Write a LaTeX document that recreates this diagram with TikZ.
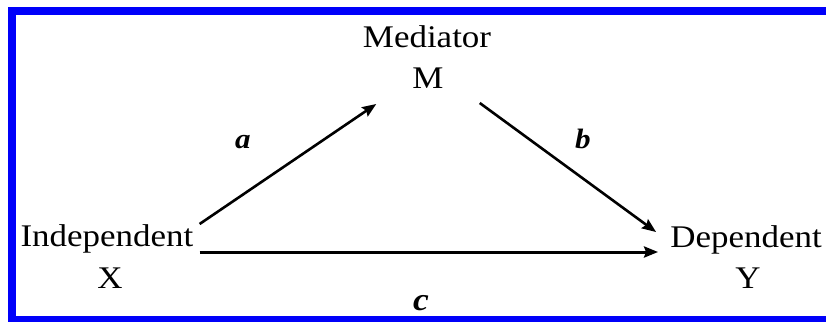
\documentclass[tikz,border=0pt]{standalone}
\usepackage{fontspec}
\usepackage{graphicx}
\setmainfont{Liberation Serif}
\usetikzlibrary{arrows.meta}
\definecolor{frameblue}{RGB}{0,0,250}
\newcommand\hstretch[1]{\scalebox{1.11}[1]{#1}}
\tikzset{
  lbl/.style={inner sep=0pt, anchor=base, font=\fontsize{31.5}{38}\selectfont},
  pathlbl/.style={inner sep=0pt, anchor=base, font=\fontsize{28}{32}\selectfont\bfseries\itshape},
  conn/.style={line width=2.6pt, -{Stealth[length=14pt,width=11pt,inset=2pt]}},
}
\begin{document}
\begin{tikzpicture}[x=1pt,y=-1pt]
\useasboundingbox (0,0) rectangle (826,324);
\fill[white] (0,0) rectangle (826,324);
% blue frame (right side cropped)
\fill[frameblue] (8,7) rectangle (826,15);
\fill[frameblue] (8,7) rectangle (16,322);
\fill[frameblue] (8,316) rectangle (826,322);
% texts
\node[lbl] (medT) at (427,47) {\hstretch{Mediator}};
\node[lbl] (medM) at (428,88) {\hstretch{M}};
\node[lbl] (indT) at (107,246) {\hstretch{Independent}};
\node[lbl] (indX) at (110,288) {\hstretch{X}};
\node[lbl] (depT) at (746,247) {\hstretch{Dependent}};
\node[lbl] (depY) at (748,288) {\hstretch{Y}};
\node[pathlbl] (la) at (243,148) {\hstretch{a}};
\node[pathlbl] (lb) at (583,148) {\hstretch{b}};
\node[pathlbl, font=\fontsize{32}{36}\selectfont\bfseries\itshape] (lc) at (421,310) {\hstretch{c}};
% connectors
\draw[conn] ([xshift=6pt,yshift=22pt]indT.base east) -- ([xshift=-36pt,yshift=-16pt]medM.base west);
\draw[conn] ([xshift=36pt,yshift=-15pt]medM.base east) -- ([xshift=-14pt,yshift=15pt]depT.base west);
\draw[conn, line width=3pt] ([xshift=6pt,yshift=-6pt]indT.base east) -- ([xshift=-12pt,yshift=-5pt]depT.base west);
\end{tikzpicture}
\end{document}
